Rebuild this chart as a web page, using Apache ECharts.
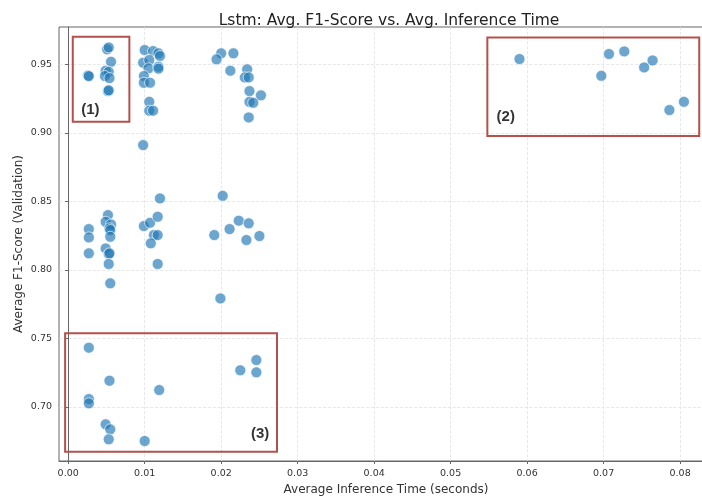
<!DOCTYPE html>
<html>
<head>
<meta charset="utf-8">
<script src="https://cdn.jsdelivr.net/npm/echarts@6/dist/echarts.min.js"></script>
<style>
  html, body { margin: 0; padding: 0; background: #fff; overflow: hidden; }
  #chart { width: 702px; height: 497px; }
</style>
</head>
<body>
<div id="chart"></div>
<script>
// avg inference time (s) / avg F1 (validation)
const inferenceTime = [
  0.0026, 0.0027,
  0.0051, 0.0053, 0.0056, 0.0049, 0.0053, 0.0048, 0.0054, 0.0052, 0.0053,
  0.0100, 0.0111, 0.0118, 0.0120, 0.0098, 0.0106, 0.0105, 0.0118, 0.0118, 0.0099, 0.0099, 0.0107, 0.0106, 0.0106, 0.0111, 0.0098,
  0.0200, 0.0194, 0.0216, 0.0212, 0.0234, 0.0231, 0.0236, 0.0237, 0.0252, 0.0237, 0.0242, 0.0236,
  0.0590, 0.0707, 0.0727, 0.0697, 0.0753, 0.0764, 0.0786, 0.0805,
  0.0027, 0.0027, 0.0027,
  0.0052, 0.0049, 0.0056, 0.0054, 0.0055, 0.0055, 0.0049, 0.0053, 0.0054, 0.0053, 0.0055,
  0.0099, 0.0107, 0.0117, 0.0120, 0.0112, 0.0117, 0.0108, 0.0117,
  0.0202, 0.0191, 0.0211, 0.0223, 0.0236, 0.0233, 0.0250, 0.0199,
  0.0027, 0.0054, 0.0027, 0.0027, 0.0049, 0.0055, 0.0053, 0.0100, 0.0119, 0.0225, 0.0246, 0.0246
];
const f1Score = [
  0.9418, 0.9413,
  0.9609, 0.9623, 0.9518, 0.9453, 0.9445, 0.9414, 0.9399, 0.9304, 0.9310,
  0.9604, 0.9596, 0.9580, 0.9560, 0.9511, 0.9531, 0.9470, 0.9482, 0.9468, 0.9414, 0.9365, 0.9365, 0.9226, 0.9161, 0.9161, 0.8910,
  0.9580, 0.9536, 0.9580, 0.9453, 0.9463, 0.9404, 0.9404, 0.9304, 0.9273, 0.9226, 0.9219, 0.9112,
  0.9538, 0.9575, 0.9594, 0.9416, 0.9477, 0.9528, 0.9166, 0.9226,
  0.8297, 0.8236, 0.8120,
  0.8399, 0.8350, 0.8331, 0.8302, 0.8290, 0.8241, 0.8156, 0.8115, 0.8120, 0.8042, 0.7901,
  0.8319, 0.8343, 0.8387, 0.8521, 0.8253, 0.8253, 0.8193, 0.8042,
  0.8540, 0.8253, 0.8297, 0.8358, 0.8339, 0.8217, 0.8246, 0.7791,
  0.7431, 0.7190, 0.7056, 0.7025, 0.6872, 0.6835, 0.6762, 0.6750, 0.7122, 0.7266, 0.7341, 0.7251
];

const xTicks = [0, 0.01, 0.02, 0.03, 0.04, 0.05, 0.06, 0.07, 0.08];
const yTicks = [0.70, 0.75, 0.80, 0.85, 0.90, 0.95];

// highlighted regions (data units) and where their tags sit
const regionNames = ['(1)', '(2)', '(3)'];
const regionX = [[0.0006, 0.0080], [0.0548, 0.0825], [-0.0004, 0.0273]];
const regionY = [[0.9080, 0.9701], [0.8976, 0.9696], [0.6672, 0.7536]];
const regionTagX = [0.0029, 0.0572, 0.0251];
const regionTagY = [0.9166, 0.9117, 0.6805];

const points = inferenceTime.map((t, i) => [t, f1Score[i]]);

const areas = regionNames.map((name, i) => [
  { coord: [regionX[i][0], regionY[i][1]] },
  { coord: [regionX[i][1], regionY[i][0]] }
]);
const tags = regionNames.map((name, i) => ({ name: name, value: [regionTagX[i], regionTagY[i]] }));

const textColor = '#333';
const font = 'DejaVu Sans';

const chart = echarts.init(document.getElementById('chart'));
const option = {
  animation: false,
  title: {
    text: 'Lstm: Avg. F1-Score vs. Avg. Inference Time',
    left: 384,
    textAlign: 'center',
    top: 8,
    textStyle: { fontFamily: font, fontSize: 15.5, fontWeight: 'normal', color: '#222' }
  },
  grid: {
    left: 59, width: 654, top: 27, bottom: 36,
    outerBoundsMode: 'none',
    containLabel: false,
    show: true, borderColor: '#666', borderWidth: 1, backgroundColor: 'transparent'
  },
  xAxis: {
    type: 'value',
    min: -0.0012, max: 0.0843,
    name: 'Average Inference Time (seconds)',
    nameLocation: 'middle',
    nameGap: 21,
    nameTextStyle: { fontFamily: font, fontSize: 12, color: textColor },
    axisLine: { show: true, lineStyle: { color: '#666', width: 1 } },
    axisTick: { show: true, length: 3, customValues: xTicks, lineStyle: { color: '#666' } },
    axisLabel: {
      customValues: xTicks, margin: 8,
      fontFamily: font, fontSize: 9.5, color: textColor,
      formatter: v => v.toFixed(2)
    },
    splitLine: { show: true, lineStyle: { color: '#e2e2e2', type: 'dashed', width: 0.8 } }
  },
  yAxis: {
    type: 'value',
    min: 0.6604, max: 0.9772,
    name: 'Average F1-Score (Validation)',
    nameLocation: 'middle',
    nameGap: 34,
    nameMoveOverlap: false,
    nameTextStyle: { fontFamily: font, fontSize: 12, color: textColor },
    axisLine: { show: true, lineStyle: { color: '#666', width: 1 } },
    axisTick: { show: true, length: 3, customValues: yTicks, lineStyle: { color: '#666' } },
    axisLabel: {
      customValues: yTicks, margin: 7,
      fontFamily: font, fontSize: 9.5, color: textColor,
      formatter: v => v.toFixed(2)
    },
    splitLine: { show: true, lineStyle: { color: '#e2e2e2', type: 'dashed', width: 0.8 } }
  },
  series: [
    {
      type: 'scatter',
      data: points,
      symbolSize: 11,
      itemStyle: { color: 'rgba(31,119,180,0.82)', borderColor: '#fff', borderWidth: 0.8 },
      markArea: {
        silent: true,
        itemStyle: { color: 'rgba(0,0,0,0)', borderColor: '#b5504c', borderWidth: 2 },
        label: { show: false },
        data: areas
      }
    },
    {
      type: 'scatter',
      data: tags,
      symbolSize: 1,
      silent: true,
      itemStyle: { color: 'rgba(0,0,0,0)' },
      label: {
        show: true,
        position: 'inside',
        formatter: '{b}',
        fontFamily: 'Liberation Sans', fontSize: 15, fontWeight: 'bold', color: '#000'
      },
      z: 5
    }
  ]
};
option && chart.setOption(option);
</script>
</body>
</html>
